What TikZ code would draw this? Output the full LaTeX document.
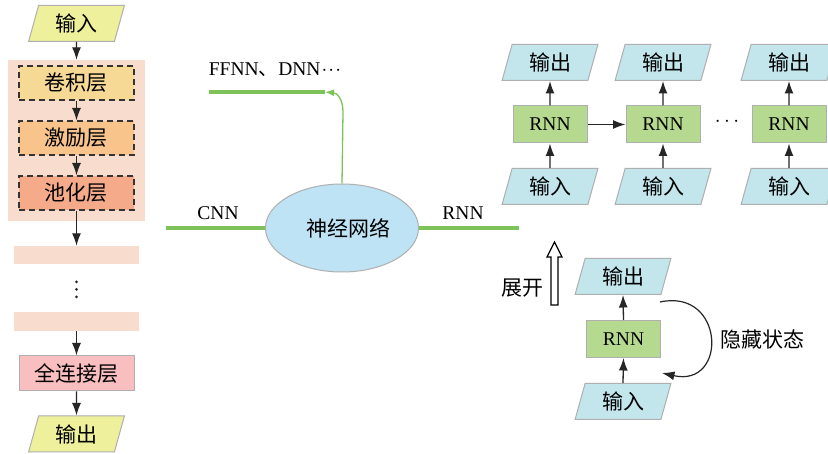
\documentclass[tikz,border=0pt]{standalone}
\usepackage{fontspec}
\setmainfont{Liberation Serif}
\newfontfamily\cjk{Noto Sans CJK SC}
\usetikzlibrary{shapes.geometric,arrows.meta}
\definecolor{yel}{RGB}{238,240,155}
\definecolor{cyanbox}{RGB}{194,230,236}
\definecolor{ellblue}{RGB}{190,227,245}
\definecolor{rnngreen}{RGB}{180,217,143}
\definecolor{linegreen}{RGB}{125,195,90}
\definecolor{peach}{RGB}{248,220,205}
\definecolor{conv}{RGB}{247,217,150}
\definecolor{act}{RGB}{249,196,140}
\definecolor{pool}{RGB}{245,170,138}
\definecolor{fc}{RGB}{248,190,192}
\definecolor{edgegray}{RGB}{175,175,175}
\begin{document}
\begin{tikzpicture}[x=1pt,y=-1pt,
  font=\fontsize{19.5}{22}\selectfont,
  para/.style={trapezium, trapezium left angle=74, trapezium right angle=106,
    trapezium stretches=true, draw=edgegray, line width=1pt,
    minimum width=96pt, minimum height=36pt, inner sep=0pt,
    font=\cjk\fontsize{21}{24}\selectfont},
  layerbox/.style={rectangle, draw=black!80, dash pattern=on 6pt off 4pt, line width=1.1pt,
    minimum width=115pt, minimum height=34pt, inner sep=0pt,
    font=\cjk\fontsize{21}{24}\selectfont},
  palebox/.style={rectangle, fill=peach, minimum width=125pt, minimum height=18pt, inner sep=0pt},
  rnnbox/.style={rectangle, fill=rnngreen, draw=edgegray, line width=1pt,
    minimum width=74pt, minimum height=37pt, inner sep=0pt},
  cjktext/.style={font=\cjk\fontsize{21}{24}\selectfont, inner sep=0pt},
  arr/.style={-{Latex[length=12.5pt,width=9pt]}, line width=1.3pt, draw=black!85},
  gline/.style={draw=linegreen, line width=4pt},
]
\useasboundingbox (0,0) rectangle (828,454);
\fill[white] (0,0) rectangle (828,454);

% ---------- left column (CNN) ----------
\node[rectangle, fill=peach, minimum width=137pt, minimum height=161pt, inner sep=0pt] (bg) at (76.5,140.5) {};
\node[para, fill=yel] (in1) at (76.5,23.5) {输入};
\node[layerbox, fill=conv] (conv) at (76.5,83) {卷积层};
\node[layerbox, fill=act] (act) at (76.5,138) {激励层};
\node[layerbox, fill=pool] (pool) at (76.5,193) {池化层};
\node[palebox] (pale1) at (76.5,255) {};
\node[palebox, minimum height=19pt] (pale2) at (76.5,321.5) {};
\node[rectangle, fill=fc, draw=edgegray, line width=1pt, minimum width=115pt, minimum height=35pt, inner sep=0pt,
  font=\cjk\fontsize{21}{24}\selectfont] (fc) at (76.5,373.5) {全连接层};
\node[para, fill=yel] (out1) at (76.5,434) {输出};
\foreach \yy in {282,289.5,297} \fill[black!85] (76.5,\yy) circle (1.5pt);

\draw[arr] (in1.south) -- (bg.north);
\draw[arr] (conv.south) -- (act.north);
\draw[arr] (act.south) -- (pool.north);
\draw[arr] (pool.south) -- (pale1.north);
\draw[arr] (pale2.south) -- (fc.north);
\draw[arr] (fc.south) -- (out1.north);

% ---------- middle ----------
\node[inner sep=0pt] (ffnn) at (275,70) {FFNN{\cjk 、}DNN\kern1pt$\cdot\!\cdot\!\cdot$};
\coordinate (fl) at (209,92);
\coordinate (fr) at (325,92);
\draw[gline] (fl) -- (fr);
\node[ellipse, fill=ellblue, draw=edgegray, line width=1pt, minimum width=153pt, minimum height=88pt, inner sep=0pt] (nn) at (342,228) {};
\node[cjktext] (nnt) at (348,228) {神经网络};
\coordinate (cl) at (166,228);
\coordinate (rr) at (519,228);
\draw[gline] (cl) -- (nn.west);
\draw[gline] (nn.east) -- (rr);
\node[inner sep=0pt] (cnnl) at (218,213) {CNN};
\node[inner sep=0pt] (rnnl) at (463,213) {RNN};
\coordinate (gb) at (343,112);
\draw[draw=linegreen, line width=1.3pt, -{Latex[length=9pt,width=7pt]}] (nn.north) -- (gb) .. controls (343,99) and (337,93) .. (fr);

% ---------- RNN unrolled ----------
\node[para, fill=cyanbox] (o1) at (550,62.5) {输出};
\node[rnnbox] (r1) at (550,124.5) {RNN};
\node[para, fill=cyanbox] (i1) at (550,186.5) {输入};
\node[para, fill=cyanbox] (o2) at (663,62.5) {输出};
\node[rnnbox] (r2) at (663,124.5) {RNN};
\node[para, fill=cyanbox] (i2) at (663,186.5) {输入};
\node[para, fill=cyanbox] (o3) at (789,62.5) {输出};
\node[rnnbox] (r3) at (789,124.5) {RNN};
\node[para, fill=cyanbox] (i3) at (789,186.5) {输入};
\node[inner sep=0pt] (dots) at (727,122) {$\cdots$};
\foreach \c in {1,2,3} {
  \draw[arr] (i\c.north) -- (r\c.south);
  \draw[arr] (r\c.north) -- (o\c.south);
}
\draw[arr] (r1.east) -- (r2.west);

% ---------- RNN folded ----------
\node[para, fill=cyanbox] (o4) at (623,276.5) {输出};
\node[rnnbox] (r4) at (623.5,339) {RNN};
\node[para, fill=cyanbox] (i4) at (623,401.5) {输入};
\draw[arr] (i4.north) -- (r4.south);
\draw[arr] (r4.north) -- (o4.south);
\draw[line width=1.2pt, fill=white] (551,305) -- (551,257) -- (547,257) -- (554.5,242) -- (562,257) -- (558,257) -- (558,305) -- cycle;
\node[cjktext] (unf) at (522,288) {展开};
\coordinate (hs1) at (660,302);
\coordinate (hs2) at (662,373);
\draw[arr, line width=1.2pt] (hs1) .. controls (725,288) and (728,388) .. (hs2);
\node[cjktext] (hid) at (762,340) {隐藏状态};
\end{tikzpicture}
\end{document}
